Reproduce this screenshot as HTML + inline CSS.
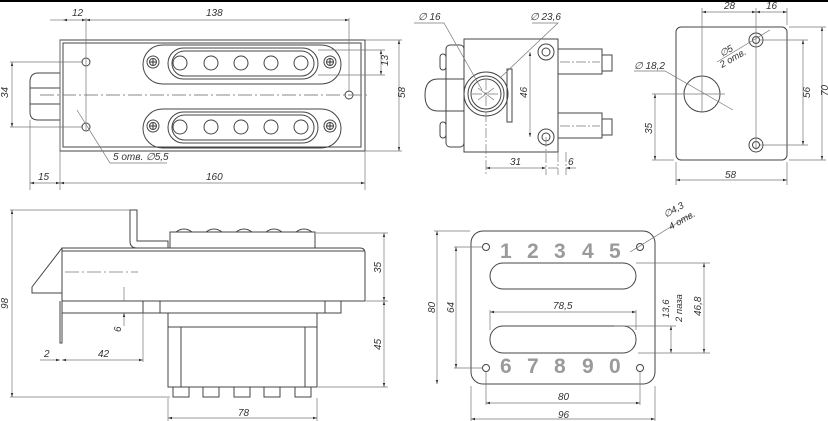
<!DOCTYPE html>
<html><head><meta charset="utf-8"><style>
html,body{margin:0;padding:0;background:#fff}
svg{display:block}
text{font-family:"Liberation Sans",sans-serif;font-style:italic;font-size:10px;fill:#333}
.d{font-size:9.5px}
.n{font-style:normal;font-size:21px;font-weight:bold;fill:#9a9a9a}
</style></head><body>
<svg width="828" height="421" viewBox="0 0 828 421" xmlns="http://www.w3.org/2000/svg">
<defs>
<marker id="a" viewBox="0 0 10 10" refX="10" refY="5" markerWidth="6" markerHeight="6" orient="auto-start-reverse"><path d="M0,2 L10,5 L0,8z" fill="#333"/></marker>
</defs>
<rect x="0" y="0" width="828" height="2" fill="#000"/>
<g fill="none" stroke="#444" stroke-width="1">
<!-- VIEW 1 -->
<rect x="60" y="40" width="305" height="111"/>
<rect x="63" y="43" width="298" height="104"/>
<path d="M60,73 H38 Q30,73 30,82 V112 Q30,120 38,120 H60 M30,88 H60 M30,104 H60"/>
<g id="slot">
<rect x="143" y="45" width="198" height="39" rx="19.5"/>
<rect x="168" y="48" width="150" height="31" rx="15.5"/>
<rect x="172" y="51" width="142" height="25" rx="12.5"/>
<circle cx="180" cy="63" r="7"/><circle cx="211" cy="63" r="7"/><circle cx="241" cy="63" r="7"/><circle cx="271" cy="63" r="7"/><circle cx="301" cy="63" r="7"/>
<circle cx="153" cy="62" r="6"/><circle cx="153" cy="62" r="3.5"/><path d="M150,62 H156 M153,59 V65" stroke="#333"/>
<circle cx="330" cy="62" r="6"/><circle cx="330" cy="62" r="3.5"/><path d="M327,62 H333 M330,59 V65" stroke="#333"/>
</g>
<use href="#slot" y="64"/>
<circle cx="86" cy="62" r="4"/><circle cx="86" cy="127" r="4"/><circle cx="349" cy="95" r="4"/>
<path d="M40,95 H370" stroke-dasharray="14,3,2,3" stroke="#888"/>
<g stroke="#777" stroke-width="0.7">
<path d="M60,40 V190 M86,18 V130 M349,18 V92 M365,151 V190 M30,120 V190 M318,50 H385 M318,75 H385 M365,40 H402 M365,151 H402 M10,62 H83 M10,127 H83"/>
<path d="M63,20 H86" marker-start="url(#a)" marker-end="url(#a)"/>
<path d="M50,20 H63"/>
<path d="M86,20 H349" marker-start="url(#a)" marker-end="url(#a)"/>
<path d="M381,50 V75" marker-start="url(#a)" marker-end="url(#a)"/>
<path d="M399,40 V151" marker-start="url(#a)" marker-end="url(#a)"/>
<path d="M12,62 V127" marker-start="url(#a)" marker-end="url(#a)"/>
<path d="M30,183 H60" marker-start="url(#a)" marker-end="url(#a)"/>
<path d="M60,183 H365" marker-start="url(#a)" marker-end="url(#a)"/>
<path d="M77,110 L110,163 H167"/>
</g>
<!-- VIEW 2 -->
<rect x="464" y="39" width="94" height="113"/>
<rect x="446" y="45" width="18" height="102" rx="4"/>
<rect x="440" y="54" width="6" height="16" rx="3"/><rect x="440" y="122" width="6" height="16" rx="3"/>
<path d="M464,79 H438 Q425,79 425,95 Q425,111 438,111 H464"/>
<circle cx="486" cy="94" r="22"/><circle cx="486" cy="94" r="18"/><circle cx="486" cy="94" r="15"/>
<rect x="507" y="69" width="5" height="53"/>
<circle cx="546" cy="52" r="8"/><circle cx="546" cy="52" r="4"/>
<circle cx="546" cy="137" r="8"/><circle cx="546" cy="137" r="4"/>
<rect x="558" y="49" width="44" height="25"/><rect x="602" y="55" width="10" height="16"/>
<rect x="558" y="113" width="44" height="25"/><rect x="602" y="119" width="10" height="16"/>
<g stroke="#777" stroke-width="0.7">
<path d="M472,94 H500 M486,80 V175 M546,137 V175 M558,152 V175 M566,152 V175 M560,62 H600 M560,126 H600" stroke-dasharray="10,2,2,2"/>
<path d="M530,52 V137" marker-start="url(#a)" marker-end="url(#a)"/>
<path d="M486,168 H546" marker-start="url(#a)" marker-end="url(#a)"/>
<path d="M548,168 H558 M576,168 H566" marker-end="url(#a)"/>
<path d="M414,23 H444 L482,90"/><path d="M532,23 H558 L500,78" />
<path d="M478,88 L494,100 M478,100 L494,88"/>
</g>
<!-- VIEW 3 -->
<rect x="676" y="27" width="111" height="133" rx="5"/>
<circle cx="756" cy="40" r="7"/><circle cx="756" cy="40" r="3.5"/>
<circle cx="756" cy="145" r="7"/><circle cx="756" cy="145" r="3.5"/>
<circle cx="702" cy="94" r="18"/>
<g stroke="#777" stroke-width="0.7">
<path d="M702,8 V112 M756,8 V150 M787,8 V25 M680,94 H725 M760,40 H808 M760,145 H808 M789,27 H826 M789,160 H826 M652,94 H700 M652,160 H674 M676,162 V185 M787,162 V185" />
<path d="M702,12 H756" marker-start="url(#a)" marker-end="url(#a)"/>
<path d="M756,12 H787" marker-start="url(#a)" marker-end="url(#a)"/>
<path d="M803,40 V145" marker-start="url(#a)" marker-end="url(#a)"/>
<path d="M822,27 V160" marker-start="url(#a)" marker-end="url(#a)"/>
<path d="M655,94 V160" marker-start="url(#a)" marker-end="url(#a)"/>
<path d="M676,180 H787" marker-start="url(#a)" marker-end="url(#a)"/>
<path d="M634,71 H665 L733,110"/>
<path d="M717,62 L770,30"/>
</g>
<!-- VIEW 4 -->
<path d="M130,210 H137 V241 H168 V248 H137 Q130,248 130,241 Z"/>
<rect x="170" y="232" width="145" height="16"/>
<path d="M176,232 Q184,226 192,232 M206,232 Q214,226 222,232 M236,232 Q244,226 252,232 M266,232 Q274,226 282,232 M296,232 Q304,226 312,232"/>
<path d="M62,248 H360 Q365,248 365,253 V301 H62 Z"/>
<path d="M62,251 H364"/>
<path d="M62,248 L32,287 V293 H62"/>
<path d="M62,301 V343 H60 V301"/>
<path d="M62,301 V313 H341 V301 M143,301 V313 M160,301 V313 M325,301 V313"/>
<rect x="168" y="313" width="149" height="74"/>
<path d="M168,327 H317 M181,327 V387 M305,327 V387"/>
<path d="M173,387 h16 v10 h-16z M203,387 h16 v10 h-16z M234,387 h16 v10 h-16z M264,387 h16 v10 h-16z M295,387 h16 v10 h-16z"/>
<g stroke="#777" stroke-width="0.7">
<path d="M65,272 H138" stroke-dasharray="14,3,2,3"/>
<path d="M10,210 H130 M10,397 H170 M316,233 H388 M366,301 H388 M318,387 H388 M143,313 V362 M168,398 V421 M317,398 V421"/>
<path d="M12,210 V397" marker-start="url(#a)" marker-end="url(#a)"/>
<path d="M384,233 V301" marker-start="url(#a)" marker-end="url(#a)"/>
<path d="M384,301 V387" marker-start="url(#a)" marker-end="url(#a)"/>
<path d="M124,287 V301 M124,326 V313" marker-end="url(#a)"/>
<path d="M40,360 H60" marker-end="url(#a)"/>
<path d="M62,360 H143" marker-start="url(#a)" marker-end="url(#a)"/>
<path d="M168,418 H317" marker-start="url(#a)" marker-end="url(#a)"/>
</g>
<!-- VIEW 5 -->
<rect x="471" y="231" width="184" height="153" rx="12"/>
<circle cx="486" cy="247" r="3.5"/><circle cx="640" cy="247" r="3.5"/><circle cx="486" cy="368" r="3.5"/><circle cx="640" cy="368" r="3.5"/>
<rect x="490" y="263" width="146" height="26" rx="13"/>
<rect x="490" y="326" width="146" height="27" rx="13"/>
<g stroke="#777" stroke-width="0.7">
<path d="M434,231 H470 M454,247 H482 M454,368 H482 M486,372 V405 M640,372 V405 M471,386 V421 M655,386 V421 M490,310 V330 M636,310 V330 M614,326 H676 M638,353 H710 M636,263 H710"/>
<path d="M437,231 V384" marker-start="url(#a)" marker-end="url(#a)"/>
<path d="M456,247 V368" marker-start="url(#a)" marker-end="url(#a)"/>
<path d="M490,312 H636" marker-start="url(#a)" marker-end="url(#a)"/>
<path d="M671,326 V353" marker-start="url(#a)" marker-end="url(#a)"/>
<path d="M704,263 V353" marker-start="url(#a)" marker-end="url(#a)"/>
<path d="M486,403 H640" marker-start="url(#a)" marker-end="url(#a)"/>
<path d="M471,419 H655" marker-start="url(#a)" marker-end="url(#a)"/>
<path d="M630,252 L690,215"/>
</g>
</g>
<!-- texts -->
<text x="72" y="16">12</text><text x="206" y="16">138</text>
<text transform="translate(388,66) rotate(-90)">13</text>
<text transform="translate(405,98) rotate(-90)">58</text>
<text transform="translate(8,98) rotate(-90)">34</text>
<text x="38" y="180">15</text><text x="206" y="180">160</text>
<text x="113" y="160">5 отв. ∅5,5</text>
<text x="418" y="20">∅ 16</text><text x="530" y="20">∅ 23,6</text>
<text transform="translate(527,98) rotate(-90)">46</text>
<text x="510" y="165">31</text><text x="568" y="165">6</text>
<text x="724" y="9">28</text><text x="766" y="9">16</text>
<text transform="translate(810,98) rotate(-90)">56</text>
<text transform="translate(828,96) rotate(-90)">70</text>
<text transform="translate(652,134) rotate(-90)">35</text>
<text x="725" y="178">58</text>
<text x="634" y="69">∅ 18,2</text>
<text class="d" transform="translate(722,57) rotate(-30)">∅5</text>
<text class="d" transform="translate(722,68) rotate(-30)">2 отв.</text>
<text transform="translate(8,309) rotate(-90)">98</text>
<text transform="translate(381,273) rotate(-90)">35</text>
<text transform="translate(381,350) rotate(-90)">45</text>
<text transform="translate(121,332) rotate(-90)">6</text>
<text x="44" y="357">2</text><text x="98" y="357">42</text>
<text x="238" y="416">78</text>
<text class="n" x="500" y="258">1</text><text class="n" x="527" y="258">2</text><text class="n" x="554" y="258">3</text><text class="n" x="582" y="258">4</text><text class="n" x="609" y="258">5</text>
<text class="n" x="500" y="373">6</text><text class="n" x="527" y="373">7</text><text class="n" x="554" y="373">8</text><text class="n" x="582" y="373">9</text><text class="n" x="609" y="373">0</text>
<text transform="translate(435,313) rotate(-90)">80</text>
<text transform="translate(454,313) rotate(-90)">64</text>
<text x="553" y="309">78,5</text>
<text class="d" transform="translate(669,318) rotate(-90)">13,6</text>
<text class="d" transform="translate(682,322) rotate(-90)">2 паза</text>
<text transform="translate(701,316) rotate(-90)">46,8</text>
<text x="558" y="400">80</text><text x="558" y="418">96</text>
<text class="d" transform="translate(666,218) rotate(-30)">∅4,3</text>
<text class="d" transform="translate(671,230) rotate(-30)">4 отв.</text>
</svg>
</body></html>
